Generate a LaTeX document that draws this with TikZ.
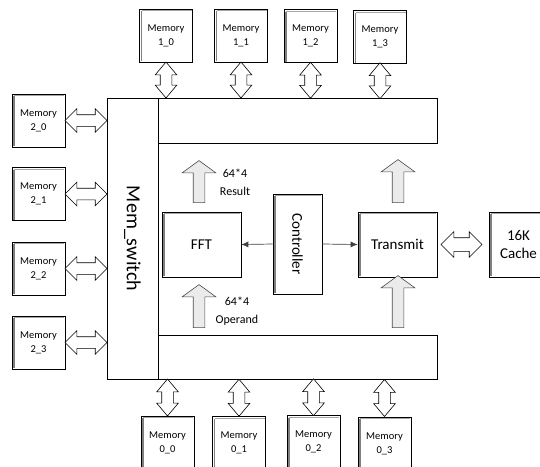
\documentclass[tikz,border=0pt]{standalone}
\usepackage{fontspec}
\setmainfont{Carlito}
\usetikzlibrary{shapes.arrows,calc,arrows.meta,shadows}

\tikzset{
    bevel/.style={draw, fill=white, line width=0.6pt, inner sep=0pt, align=center,
        path picture={
            \draw[black!50, line width=1.8pt]
                ([xshift=2pt,yshift=-2pt]path picture bounding box.north west) --
                ([xshift=2pt,yshift=0.6pt]path picture bounding box.south west);
            \draw[black!35, line width=0.8pt]
                ([xshift=2pt,yshift=-1.8pt]path picture bounding box.north west) --
                ([xshift=-0.6pt,yshift=-1.8pt]path picture bounding box.north east);
        }},
    mem/.style={bevel, minimum width=53pt, minimum height=53pt, font=\fontsize{10.5}{14}\selectfont},
    unit/.style={bevel, minimum width=79pt, minimum height=65pt, font=\fontsize{15}{18}\selectfont},
    plain/.style={draw, fill=white, line width=0.6pt, inner sep=0pt},
    busbox/.style={plain, drop shadow={shadow xshift=1.2pt, shadow yshift=-1.2pt, fill=black!20, opacity=1}},
    dblh/.style={double arrow, draw, fill=white, line width=0.6pt, inner sep=0pt, inner ysep=5.5pt,
        minimum height=42pt, minimum width=23pt, double arrow head extend=6pt, double arrow tip angle=90},
    dblv/.style={dblh, rotate=90, minimum height=36pt, minimum width=21pt, double arrow head extend=5pt,
        double arrow tip angle=80},
    uparr/.style={single arrow, draw=black!70, fill=black!8, line width=0.6pt, rotate=90, inner sep=0pt,
        inner ysep=5.5pt, minimum width=33pt, single arrow head extend=11pt, single arrow tip angle=108},
    conn/.style={draw=black!75, line width=0.7pt, -{Latex[length=7pt,width=6pt]}},
    lbl/.style={align=center, font=\fontsize{12}{18}\selectfont}
}

\begin{document}
\begin{tikzpicture}[x=1pt, y=-1pt]
    \useasboundingbox (0,0) rectangle (540,466);
    % Switch and buses
    \node [busbox, minimum width=279pt, minimum height=45pt] (busT) at (297.5,120.5) {};
    \node [busbox, minimum width=279pt, minimum height=44pt] (busB) at (297.5,357) {};
    \node [plain, minimum width=51pt, minimum height=281pt] (memsw) at (132.5,238.5)
        {\fontsize{20}{24}\selectfont\rotatebox{-90}{Mem\_switch}};
    % Memories
    \node [mem] (m10) at (166,35.5) {Memory\\1\_0};
    \node [mem] (m11) at (241,35.5) {Memory\\1\_1};
    \node [mem] (m12) at (310.5,36) {Memory\\1\_2};
    \node [mem] (m13) at (380,37) {Memory\\1\_3};
    \node [mem] (m20) at (38.5,120.5) {Memory\\2\_0};
    \node [mem] (m21) at (38.5,194) {Memory\\2\_1};
    \node [mem] (m22) at (38.5,268.5) {Memory\\2\_2};
    \node [mem] (m23) at (38.5,342.5) {Memory\\2\_3};
    \node [mem] (m00) at (167.5,442.5) {Memory\\0\_0};
    \node [mem] (m01) at (239,443) {Memory\\0\_1};
    \node [mem] (m02) at (313.5,442) {Memory\\0\_2};
    \node [mem] (m03) at (384.5,443.5) {Memory\\0\_3};
    % Units
    \node [unit] (fft) at (201.5,244.5) {FFT};
    \node [unit, minimum width=49pt, minimum height=100pt] (ctrl) at (297.5,244)
        {\rotatebox{-90}{Controller}};
    \node [unit] (tx) at (397.5,244.5) {Transmit};
    \node [unit, minimum width=59pt] (cache) at (518.5,244.5) {16K\\Cache};
    % Memory links
    \foreach \m in {m20,m21,m22,m23}
        \node [dblh] (a\m) at ($(\m.east)!0.5!(memsw.west |- \m.east)$) {};
    \foreach \m in {m10,m11,m12,m13}
        \node [dblv] (a\m) at ($(\m.south)!0.5!(busT.north -| \m.south)$) {};
    \foreach \m in {m00,m01,m02,m03}
        \node [dblv, minimum height=37pt] (a\m) at ($(\m.north)!0.5!(busB.south -| \m.north)$) {};
    \node [dblh, minimum height=41pt, minimum width=25pt, inner ysep=6.5pt] (acache)
        at ($(tx.east)!0.5!(cache.west)+(-1.5,0)$) {};
    % Data paths
    \node [uparr, minimum height=42pt] (res) at ([xshift=-2.5pt,yshift=28pt]fft.north) {};
    \node [uparr, minimum height=43pt] (opd) at ([xshift=-2.5pt,yshift=26.5pt]busB.north -| fft.south) {};
    \node [uparr, minimum height=43pt] (txup) at ([xshift=0.5pt,yshift=28.5pt]tx.north) {};
    \node [uparr, minimum height=52pt] (txin) at ([xshift=0.5pt,yshift=31pt]busB.north -| tx.south) {};
    \node [lbl] (reslbl) at (235,182) {64*4\\Result};
    \node [lbl] (opdlbl) at (237,311) {64*4\\Operand};
    % Control
    \draw [conn] (ctrl.west) -- (fft.east);
    \draw [conn] (ctrl.east) -- (tx.west);
\end{tikzpicture}
\end{document}
